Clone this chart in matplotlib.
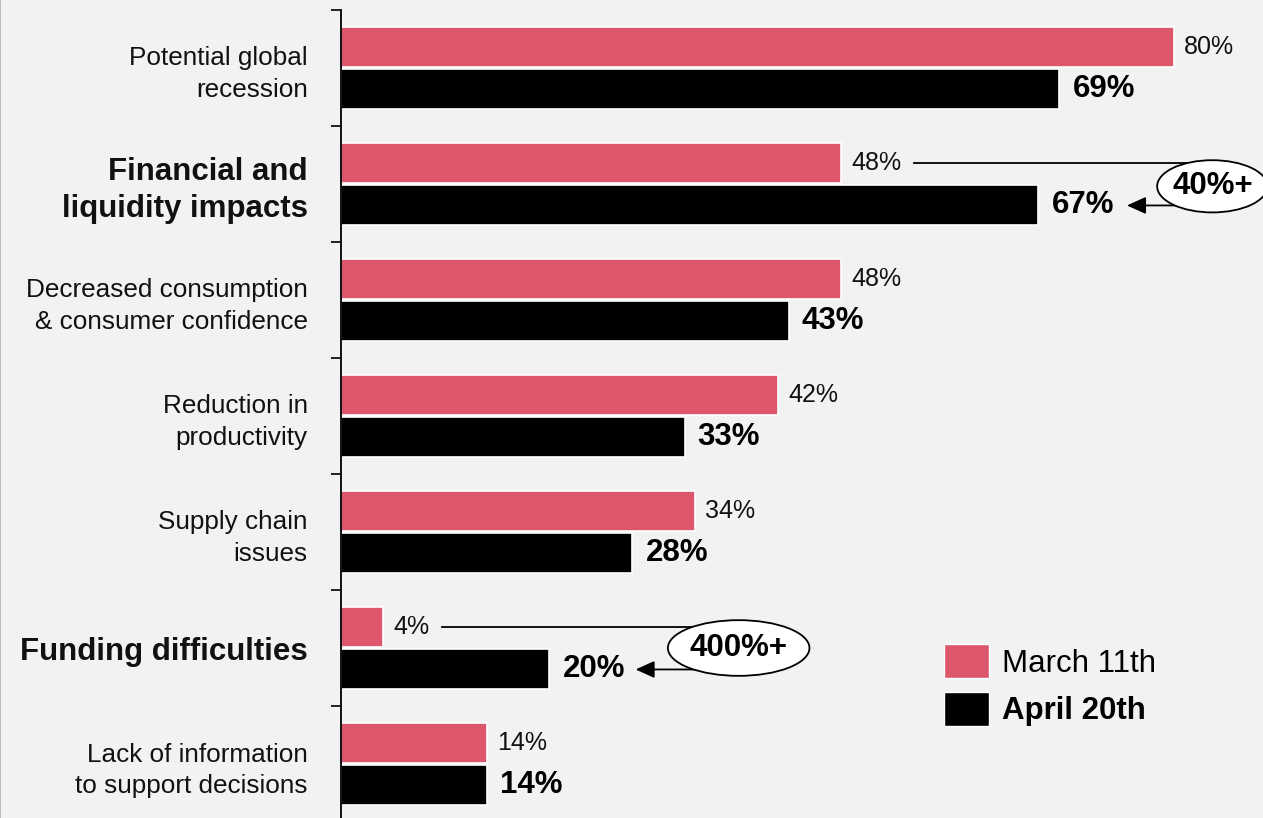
import matplotlib
matplotlib.use("Agg")
import matplotlib.pyplot as plt
from matplotlib.patches import Ellipse, Patch
from matplotlib.lines import Line2D
import numpy as np

plt.rcParams['font.family'] = ['Liberation Sans', 'DejaVu Sans']

categories = ["Potential global\nrecession", "Financial and\nliquidity impacts",
              "Decreased consumption\n& consumer confidence", "Reduction in\nproductivity",
              "Supply chain\nissues", "Funding difficulties",
              "Lack of information\nto support decisions"]
bold_categories = ["Financial and\nliquidity impacts", "Funding difficulties"]
march = [80, 48, 48, 42, 34, 4, 14]
april = [69, 67, 43, 33, 28, 20, 14]
series_names = ["March 11th", "April 20th"]
callouts = [("40%+", 1), ("400%+", 5)]

PINK = "#DC566C"
BG = "#F2F2F2"

W, H = 1263, 818
fig = plt.figure(figsize=(W / 100, H / 100), dpi=100, facecolor=BG)
ax = fig.add_axes([341 / W, -0.0049, 1 - 341 / W, 0.9927])
ax.set_facecolor(BG)

# thin left border of the slide
fig.add_artist(Line2D([0.4 / W, 0.4 / W], [0, 1], color="#B0B0B0", lw=1.2,
                      transform=fig.transFigure))

y = np.arange(len(categories))
h = 0.345
pb = ax.barh(y - 0.178, march, height=h, color=PINK, edgecolor="white", linewidth=1.2, zorder=2)
bb = ax.barh(y + 0.185, april, height=h, color="black", edgecolor="white", linewidth=1.2, zorder=2)

ax.bar_label(pb, labels=[f"{v}%" for v in march], padding=7.5, fontsize=18, color="#111111")
ax.bar_label(bb, labels=[f"{v}%" for v in april], padding=9.5, fontsize=22.5,
             fontweight="bold", color="black")

ax.set_xlim(0, (W - 341) / 10.41)
ax.set_ylim(len(categories) - 0.5, -0.5)

ax.set_yticks(y)
ax.set_yticklabels(categories)
ax.tick_params(axis="y", which="major", length=0, pad=24)
ax.set_yticks(np.arange(len(categories) + 1) - 0.5, minor=True)
ax.tick_params(axis="y", which="minor", length=7.2, width=1.2, color="black", direction="out")
for lab in ax.get_yticklabels():
    if lab.get_text() in bold_categories:
        lab.set_fontweight("bold")
        lab.set_fontsize(22.5)
        lab.set_linespacing(1.3)
    else:
        lab.set_fontsize(18.8)
        lab.set_linespacing(1.42)
    lab.set_color("#111111")
ax.set_xticks([])
for s in ["top", "right", "bottom"]:
    ax.spines[s].set_visible(False)
ax.spines["left"].set_linewidth(1.3)
ax.spines["left"].set_color("black")

# callouts
geo = {1: dict(line_start=55.0, ex=83.7, ew=10.6, eh=0.45, ey=1.02, tip=75.5),
       5: dict(line_start=9.7, ex=38.2, ew=13.6, eh=0.48, ey=5.0, tip=28.3)}
for text, i in callouts:
    g = geo[i]
    ax.plot([g["line_start"], g["ex"]], [i - 0.178, i - 0.178], color="black", lw=1.3, zorder=3)
    ax.annotate("", xy=(g["tip"], i + 0.185), xytext=(g["ex"], i + 0.185),
                arrowprops=dict(arrowstyle="-|>,head_length=1.15,head_width=0.52", color="black",
                                lw=1.3, shrinkA=0, shrinkB=0), zorder=3)
    e = Ellipse((g["ex"], g["ey"]), g["ew"], g["eh"], facecolor="white", edgecolor="black",
                lw=1.3, zorder=4, clip_on=False)
    ax.add_patch(e)
    ax.text(g["ex"], g["ey"], text, ha="center", va="center", fontsize=22.5, fontweight="bold",
            zorder=5)

handles = [Patch(facecolor=PINK, edgecolor="white"), Patch(facecolor="black", edgecolor="white")]
leg = fig.legend(handles, series_names, loc="upper left", bbox_to_anchor=(944 / W, 1 - 644 / H),
                 frameon=False, fontsize=22.5, handlelength=1.45, handleheight=1.3,
                 handletextpad=0.4, labelspacing=0.42, borderpad=0, borderaxespad=0)
leg.get_texts()[1].set_fontweight("bold")

fig.savefig("out.png", dpi=100, facecolor=BG)
